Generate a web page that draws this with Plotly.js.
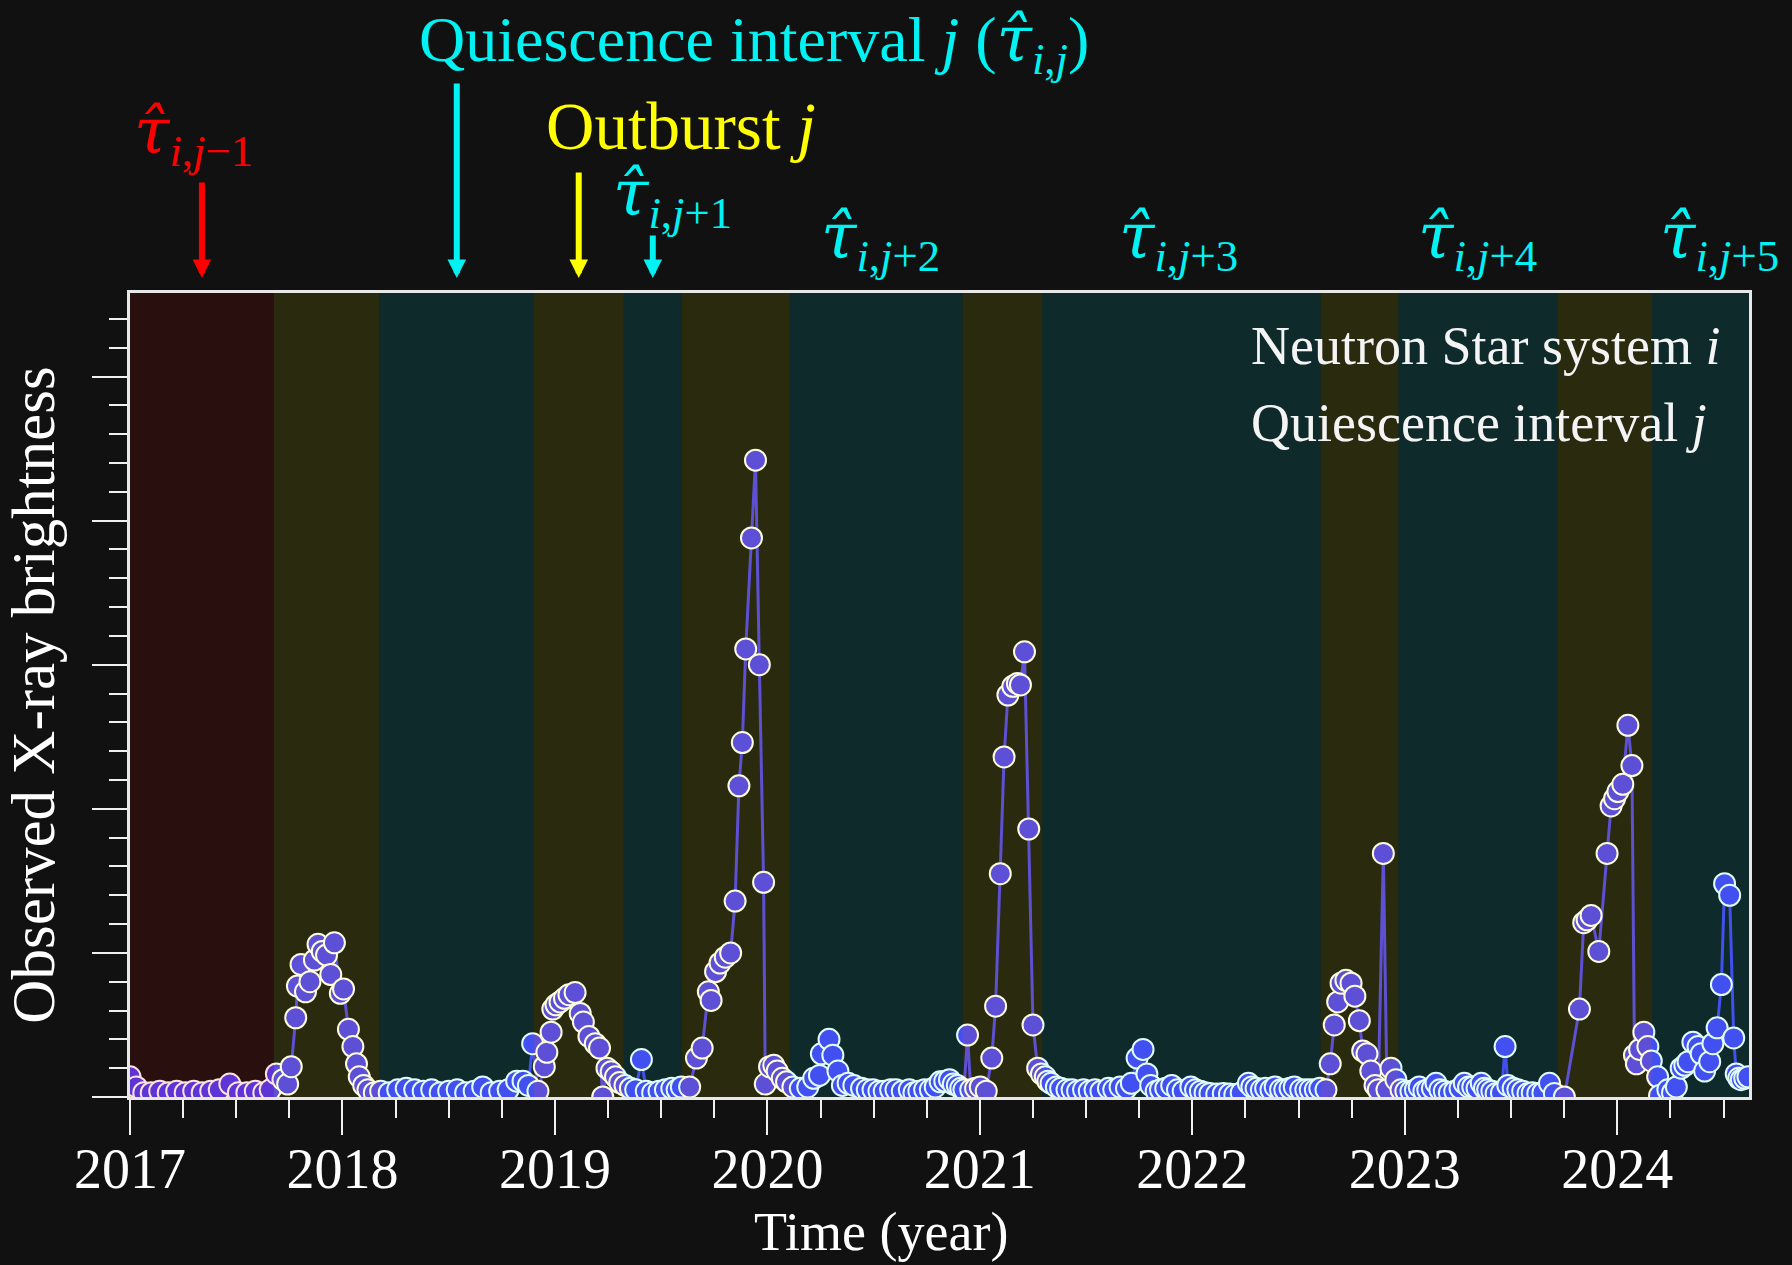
<!DOCTYPE html>
<html>
<head>
<meta charset="utf-8">
<script src="https://cdn.plot.ly/plotly-3.0.1.min.js"></script>
<style>html,body{margin:0;padding:0;background:#111111;}</style>
</head>
<body>
<div id="chart" style="width:1792px;height:1265px;"></div>
<script>
// ---- data ----
const obsYear = [
  2017.00,2017.03,2017.065,2017.10,2017.14,2017.18,2017.22,2017.26,2017.30,2017.34,2017.38,2017.42,2017.47,2017.51,2017.55,2017.59,2017.63,2017.66,
  2017.689,2017.72,2017.742,2017.759,2017.780,2017.788,2017.805,2017.826,2017.847,2017.868,2017.885,2017.905,2017.925,2017.945,2017.962,2017.990,2018.005,2018.028,2018.049,2018.066,2018.079,2018.100,2018.120,2018.150,
  2018.18,2018.22,2018.26,2018.30,2018.34,2018.38,2018.42,2018.46,2018.50,2018.54,2018.58,2018.62,2018.66,2018.70,2018.74,2018.78,2018.82,2018.85,2018.875,2018.895,
  2018.92,2018.95,2018.962,2018.982,2018.99,2019.005,2019.024,2019.045,2019.066,2019.095,2019.119,2019.134,2019.16,2019.19,2019.21,2019.225,2019.245,2019.265,2019.285,2019.305,
  2019.33,2019.355,2019.38,2019.407,2019.43,2019.46,2019.49,2019.52,2019.55,2019.575,2019.595,
  2019.634,2019.666,2019.693,2019.722,2019.735,2019.756,2019.777,2019.802,2019.827,2019.848,2019.866,2019.882,2019.898,2019.925,2019.944,2019.962,2019.982,2019.99,2020.01,2020.03,2020.046,2020.07,2020.09,
  2020.12,2020.155,2020.19,2020.218,2020.245,2020.254,2020.29,2020.308,2020.332,2020.353,2020.38,2020.407,2020.443,2020.47,2020.497,2020.525,2020.55,2020.58,2020.605,2020.635,2020.668,2020.69,2020.713,2020.74,2020.767,2020.79,2020.813,2020.835,2020.857,2020.875,2020.894,2020.91,
  2020.925,2020.942,2020.957,2020.98,2021.002,2021.03,2021.056,2021.074,2021.096,2021.114,2021.132,2021.155,2021.177,2021.191,2021.21,2021.23,2021.25,2021.272,2021.29,
  2021.308,2021.32,2021.335,2021.36,2021.38,2021.41,2021.434,2021.46,2021.488,2021.515,2021.542,2021.57,2021.605,2021.63,2021.66,2021.69,2021.713,2021.74,2021.768,2021.786,2021.804,2021.83,2021.85,2021.875,2021.903,2021.93,2021.957,2021.993,2022.015,2022.038,2022.06,2022.083,2022.115,2022.146,2022.175,2022.20,2022.23,2022.264,2022.28,2022.30,2022.325,2022.345,2022.37,2022.39,2022.415,2022.435,2022.46,2022.48,2022.51,2022.534,2022.555,2022.579,2022.60,
  2022.629,2022.649,2022.668,2022.684,2022.70,2022.723,2022.747,2022.765,2022.786,2022.802,2022.822,2022.84,2022.86,2022.875,2022.899,2022.916,2022.935,2022.958,
  2022.982,2023.005,2023.029,2023.05,2023.068,2023.09,2023.108,2023.13,2023.147,2023.165,2023.186,2023.21,2023.235,2023.26,2023.28,2023.30,2023.32,2023.34,2023.36,2023.375,2023.39,2023.41,2023.43,2023.455,2023.472,2023.485,2023.51,2023.532,2023.555,2023.58,2023.60,2023.626,2023.65,2023.681,2023.704,
  2023.751,2023.822,2023.842,2023.858,2023.877,2023.913,2023.952,2023.971,2023.987,2024.003,2024.026,2024.05,2024.069,2024.081,2024.09,2024.105,2024.125,2024.144,2024.16,
  2024.19,2024.199,2024.238,2024.26,2024.278,2024.301,2024.318,2024.333,2024.356,2024.38,2024.395,2024.411,2024.435,2024.45,2024.47,2024.49,2024.505,2024.529,2024.548,2024.56,2024.572,2024.584,2024.60,2024.615
];
const obsBrightness = [
  0.14,0.07,0.03,0.03,0.04,0.03,0.04,0.03,0.04,0.03,0.04,0.05,0.09,0.03,0.03,0.04,0.03,0.05,
  0.16,0.12,0.09,0.21,0.55,0.77,0.92,0.73,0.80,0.95,1.06,1.01,0.985,0.85,1.07,0.72,0.75,0.47,0.35,0.23,0.14,0.08,0.05,0.03,
  0.04,0.03,0.05,0.06,0.05,0.04,0.05,0.03,0.04,0.05,0.03,0.04,0.07,0.03,0.04,0.05,0.11,0.11,0.08,0.37,
  0.04,0.21,0.31,0.45,0.61,0.64,0.66,0.685,0.71,0.725,0.58,0.52,0.42,0.37,0.34,0.00,0.20,0.175,0.14,0.10,
  0.08,0.06,0.05,0.26,0.04,0.03,0.04,0.05,0.06,0.05,0.07,
  0.07,0.27,0.34,0.73,0.67,0.87,0.93,0.97,1.00,1.36,2.16,2.46,3.11,3.88,4.42,3.00,1.49,0.09,0.21,0.22,0.18,0.13,0.105,
  0.07,0.06,0.07,0.13,0.15,0.30,0.40,0.29,0.18,0.08,0.095,0.08,0.06,0.05,0.05,0.04,0.04,0.05,0.05,0.04,0.05,0.03,0.04,0.05,0.05,0.07,0.105,0.11,0.12,0.09,0.08,0.06,
  0.05,0.43,0.05,0.06,0.07,0.04,0.27,0.63,1.55,2.36,2.79,2.85,2.87,2.86,3.09,1.86,0.50,0.20,0.16,
  0.14,0.11,0.095,0.07,0.06,0.05,0.05,0.04,0.05,0.04,0.05,0.04,0.06,0.05,0.07,0.06,0.095,0.27,0.33,0.16,0.08,0.04,0.05,0.06,0.08,0.05,0.04,0.07,0.05,0.04,0.03,0.025,0.02,0.025,0.02,0.015,0.03,0.095,0.07,0.06,0.05,0.06,0.05,0.07,0.05,0.05,0.06,0.07,0.05,0.05,0.05,0.05,0.06,
  0.05,0.23,0.50,0.66,0.79,0.81,0.79,0.70,0.53,0.32,0.30,0.18,0.08,0.05,1.69,0.05,0.20,0.12,
  0.05,0.04,0.04,0.05,0.07,0.04,0.05,0.06,0.095,0.05,0.04,0.03,0.04,0.06,0.095,0.07,0.07,0.06,0.095,0.06,0.05,0.04,0.025,0.03,0.35,0.08,0.06,0.05,0.04,0.025,0.03,0.025,0.03,0.095,0.025,
  0.00,0.61,1.21,1.23,1.26,1.01,1.69,2.02,2.07,2.12,2.17,2.58,2.30,0.29,0.23,0.33,0.45,0.35,0.25,
  0.14,0.01,0.05,0.03,0.07,0.20,0.22,0.245,0.38,0.35,0.30,0.18,0.245,0.37,0.48,0.78,1.48,1.40,0.41,0.16,0.13,0.12,0.13,0.14
];

// shaded intervals (year boundaries) and their kind
const bandStart = [2017.0, 2017.677, 2018.175, 2018.901, 2019.323, 2019.598, 2020.105, 2020.919, 2021.293, 2022.604, 2022.970, 2023.720, 2024.164];
const bandEnd   = [2017.677, 2018.175, 2018.901, 2019.323, 2019.598, 2020.105, 2020.919, 2021.293, 2022.604, 2022.970, 2023.720, 2024.164, 2024.62];
const bandKind  = ['previous','outburst','quiescence','outburst','quiescence','outburst','quiescence','outburst','quiescence','outburst','quiescence','outburst','quiescence'];

const xTickYears = [2017, 2018, 2019, 2020, 2021, 2022, 2023, 2024];

const TAU = '<span style="font-family:\'DejaVu Serif\'"><i>τ̂</i></span>';
const headerTexts = {
  quiescence: 'Quiescence interval <i>j</i> (' + TAU + '<sub><i>i</i>,<i>j</i></sub>)',
  outburst: 'Outburst <i>j</i>',
  prev: TAU + '<sub><i>i</i>,<i>j</i>−1</sub>',
  next: ['+1', '+2', '+3', '+4', '+5'].map(s => TAU + '<sub><i>i</i>,<i>j</i>' + s + '</sub>')
};
const boxTexts = ['Neutron Star system <i>i</i>', 'Quiescence interval <i>j</i>'];
const axisTitles = {x: 'Time (year)', y: 'Observed X-ray brightness'};

// ---- styling ----
const FONT = 'Liberation Serif, Times New Roman, serif';
const bandFill = {
  previous: 'rgba(255,0,0,0.105)',
  outburst: 'rgba(255,255,0,0.105)',
  quiescence: 'rgba(0,255,255,0.105)'
};
const CYAN = '#00f2f2', YELLOW = '#ffff00', RED = '#ff0000';

const mid = i => (bandStart[i] + bandEnd[i]) / 2;

const shapes = bandStart.map((s, i) => ({
  type: 'rect', xref: 'x', yref: 'paper', x0: s, x1: bandEnd[i], y0: 0, y1: 1,
  fillcolor: bandFill[bandKind[i]], line: {width: 0}, layer: 'above'
}));

const tipY = 1 + 15 / 804;
function arrow(x, len, color) {
  return {x: x, xref: 'x', y: tipY, yref: 'paper', text: '', showarrow: true,
    ax: 0, ay: -len, axref: 'pixel', ayref: 'pixel',
    arrowhead: 2, arrowsize: 0.62, arrowwidth: 6, arrowcolor: color, standoff: 0};
}
function label(text, x, y, color, size) {
  return {text: text, xref: 'paper', yref: 'paper', x: x, y: y, xanchor: 'center', yanchor: 'middle',
    showarrow: false, font: {family: FONT, size: size, color: color}};
}

const annotations = [
  label(headerTexts.quiescence, 0.3854, 1.3115, CYAN, 64),
  label(headerTexts.outburst, 0.3403, 1.2077, YELLOW, 67),
  label(headerTexts.prev, 0.0395, 1.1965, RED, 64),
  label(headerTexts.next[0], 0.3348, 1.1194, CYAN, 64),
  label(headerTexts.next[1], 0.4633, 1.0659, CYAN, 64),
  label(headerTexts.next[2], 0.6479, 1.0659, CYAN, 64),
  label(headerTexts.next[3], 0.8320, 1.0659, CYAN, 64),
  label(headerTexts.next[4], 0.9820, 1.0659, CYAN, 64),
  arrow(mid(0), 97, RED),
  arrow(mid(2), 196, CYAN),
  arrow(mid(3), 107, YELLOW),
  arrow(mid(4), 44, CYAN),
  {text: boxTexts[0], xref: 'paper', yref: 'paper', x: 0.691, y: 0.9335, xanchor: 'left', yanchor: 'middle',
   showarrow: false, font: {family: FONT, size: 54, color: '#f4f4f4'}},
  {text: boxTexts[1], xref: 'paper', yref: 'paper', x: 0.691, y: 0.8377, xanchor: 'left', yanchor: 'middle',
   showarrow: false, font: {family: FONT, size: 54, color: '#f4f4f4'}},
  {text: axisTitles.x, xref: 'paper', yref: 'paper', x: 0.4639, y: -0.168, xanchor: 'center', yanchor: 'middle',
   showarrow: false, font: {family: FONT, size: 54, color: '#ffffff'}}
];

const trace = {
  type: 'scatter', mode: 'lines+markers', x: obsYear, y: obsBrightness,
  line: {color: 'rgb(74,60,236)', width: 3},
  marker: {size: 21, color: 'rgb(74,60,240)', line: {color: 'rgb(252,252,246)', width: 2}},
  cliponaxis: true, hoverinfo: 'x+y', showlegend: false
};

const layout = {
  width: 1792, height: 1265,
  paper_bgcolor: '#111111', plot_bgcolor: '#111111',
  margin: {l: 130, r: 43, t: 293, b: 168, pad: 0},
  showlegend: false,
  xaxis: {
    range: [2017.0, 2024.62], tickmode: 'array', tickvals: xTickYears, ticktext: xTickYears.map(String),
    ticks: 'outside', ticklen: 35, tickwidth: 2, tickcolor: '#f0f0f0', ticklabelstandoff: -14,
    showgrid: false, zeroline: false, showline: true, linecolor: '#e8e8e8', linewidth: 3, mirror: true,
    tickfont: {family: FONT, size: 56, color: '#ffffff'},
    minor: {dtick: 0.25, tick0: 2017, ticks: 'outside', ticklen: 18, tickwidth: 2, tickcolor: '#f0f0f0', showgrid: false},
    automargin: false
  },
  yaxis: {
    range: [0, 5.58], tick0: 0, dtick: 1, showticklabels: false,
    ticks: 'outside', ticklen: 35, tickwidth: 2, tickcolor: '#f0f0f0',
    showgrid: false, zeroline: false, showline: true, linecolor: '#e8e8e8', linewidth: 3, mirror: true,
    minor: {dtick: 0.2, tick0: 0, ticks: 'outside', ticklen: 18, tickwidth: 2, tickcolor: '#f0f0f0', showgrid: false},
    title: {text: axisTitles.y, font: {family: FONT, size: 61, color: '#ffffff'}, standoff: 28},
    automargin: false
  },
  shapes: shapes,
  annotations: annotations
};

Plotly.newPlot('chart', [trace], layout, {displayModeBar: false, staticPlot: true});
</script>
</body>
</html>
